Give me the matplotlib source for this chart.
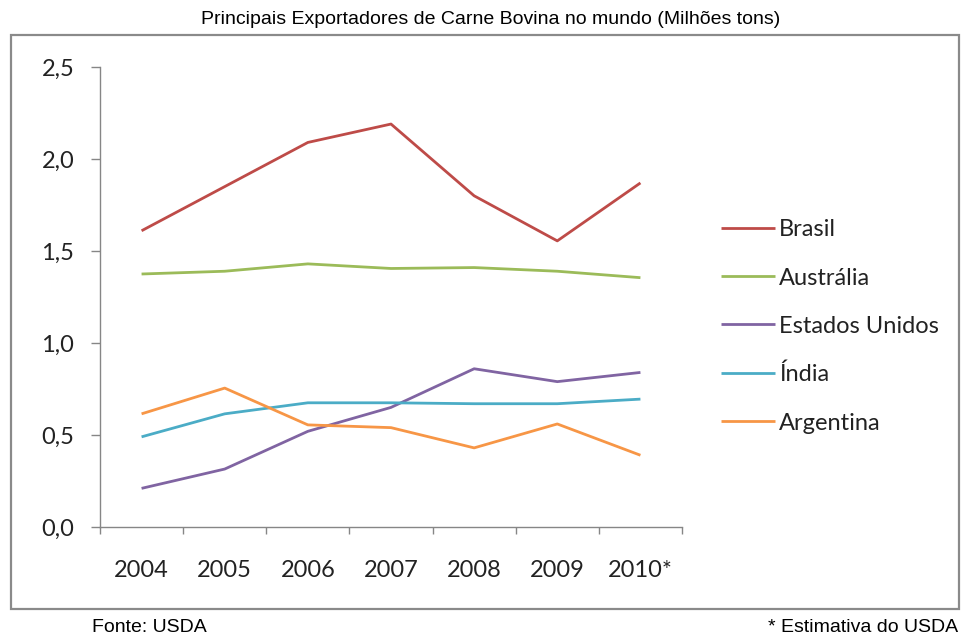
import matplotlib
matplotlib.use("Agg")
import matplotlib.pyplot as plt
from matplotlib.patches import Rectangle
from matplotlib.ticker import FixedLocator

anos = ["2004", "2005", "2006", "2007", "2008", "2009", "2010*"]
brasil = [1.61, 1.85, 2.09, 2.19, 1.80, 1.555, 1.87]
australia = [1.375, 1.39, 1.43, 1.405, 1.41, 1.39, 1.355]
eua = [0.21, 0.315, 0.52, 0.65, 0.86, 0.79, 0.84]
india = [0.49, 0.615, 0.675, 0.675, 0.67, 0.67, 0.695]
argentina = [0.615, 0.755, 0.555, 0.54, 0.43, 0.56, 0.39]

series = [
    ("Brasil", brasil, "#BE4B48"),
    ("Austrália", australia, "#9BBB59"),
    ("Estados Unidos", eua, "#8064A2"),
    ("Índia", india, "#4BACC6"),
    ("Argentina", argentina, "#F79646"),
]

W, H = 961, 637
fig = plt.figure(figsize=(W / 100, H / 100), dpi=100)

# outer border
fig.patches.append(Rectangle((11 / W, 1 - 609 / H), (959 - 11) / W, (609 - 35) / H,
                             transform=fig.transFigure, fill=False,
                             edgecolor="#8a8a8a", linewidth=1.6))

ax = fig.add_axes([100 / W, 1 - 527 / H, (682 - 100) / W, (527 - 67) / H])
x = list(range(len(anos)))
for name, vals, col in series:
    ax.plot(x, vals, color=col, linewidth=2.0, label=name, solid_capstyle="butt")

ax.set_xlim(-0.5, len(anos) - 0.5)
ax.set_ylim(0, 2.5)
ax.set_yticks([0, 0.5, 1.0, 1.5, 2.0, 2.5])
ax.set_yticklabels(["0,0", "0,5", "1,0", "1,5", "2,0", "2,5"])
ax.set_xticks(x)
ax.set_xticklabels(anos)
ax.xaxis.set_minor_locator(FixedLocator([i - 0.5 for i in range(len(anos) + 1)]))

for s in ["top", "right"]:
    ax.spines[s].set_visible(False)
for s in ["left", "bottom"]:
    ax.spines[s].set_color("#868686")
    ax.spines[s].set_linewidth(1.0)

tickfont = "Lato"
ax.tick_params(axis="y", length=6.5, width=1.0, color="#868686", pad=12,
               labelsize=17, labelcolor="#222222")
ax.tick_params(axis="x", which="major", length=0, pad=24, labelsize=17,
               labelcolor="#222222")
ax.tick_params(axis="x", which="minor", length=5, width=1.0, color="#868686")
for lab in ax.get_xticklabels() + ax.get_yticklabels():
    lab.set_fontfamily(tickfont)

leg = ax.legend(loc="upper left", bbox_to_anchor=(712 / W, 1 - 210 / H),
                bbox_transform=fig.transFigure, frameon=False,
                prop={"family": tickfont, "size": 17},
                handlelength=2.25, handletextpad=0.2, labelspacing=1.15,
                borderaxespad=0)
for t in leg.get_texts():
    t.set_color("#222222")

fig.text(491 / W, 1 - 19 / H, "Principais Exportadores de Carne Bovina no mundo (Milhões tons)",
         ha="center", va="center", fontsize=14, family="Liberation Sans")
fig.text(92 / W, 1 - 628 / H, "Fonte: USDA", ha="left", va="center",
         fontsize=14, family="Liberation Sans")
fig.text(958 / W, 1 - 628 / H, "* Estimativa do USDA", ha="right", va="center",
         fontsize=14, family="Liberation Sans")

fig.savefig("out.png", dpi=100, facecolor="white")
